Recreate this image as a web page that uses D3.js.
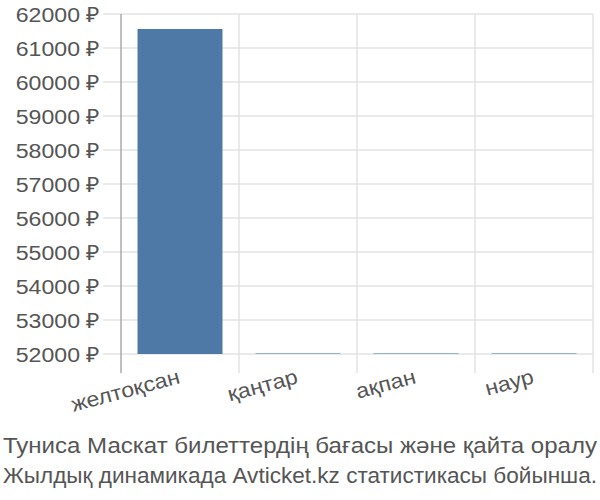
<!DOCTYPE html>
<html>
<head>
<meta charset="utf-8">
<script src="https://cdn.jsdelivr.net/npm/d3@7"></script>
<style>
  body { margin: 0; background: #fff; }
  text { font-family: "Liberation Sans", Arial, sans-serif; fill: #555; }
</style>
</head>
<body>
<div id="vis"></div>
<script>
const FRAME_WIDTH = 600;
const FRAME_HEIGHT = 500;
const MARGINS = { left: 121, right: 7, top: 14, bottom: 146 };
const STRETCH = 1.1; // text in the original is a bit wider than Liberation Sans

// data
const months = ["желтоқсан", "қаңтар", "ақпан", "наур"];
const prices = [61560, 52030, 52030, 52030];
const yTicks = [52000, 53000, 54000, 55000, 56000, 57000, 58000, 59000, 60000, 61000, 62000];
const titleLines = [
  "Туниса Маскат билеттердің бағасы және қайта оралу",
  "Жылдық динамикада Avticket.kz статистикасы бойынша."
];

const VIS_WIDTH = FRAME_WIDTH - MARGINS.left - MARGINS.right;
const VIS_HEIGHT = FRAME_HEIGHT - MARGINS.top - MARGINS.bottom;

const svg = d3.select("#vis")
  .append("svg")
  .attr("width", FRAME_WIDTH)
  .attr("height", FRAME_HEIGHT);

const X_SCALE = d3.scaleBand()
  .domain(months)
  .range([0, VIS_WIDTH])
  .paddingInner(0.28)
  .paddingOuter(0.14);

const Y_SCALE = d3.scaleLinear()
  .domain([52000, 62000])
  .range([VIS_HEIGHT, 0]);

const g = svg.append("g")
  .attr("transform", "translate(" + MARGINS.left + "," + MARGINS.top + ")");

// horizontal grid + ticks on the left
g.selectAll(".hgrid")
  .data(yTicks)
  .enter()
  .append("line")
  .attr("x1", -18)
  .attr("x2", VIS_WIDTH)
  .attr("y1", d => Y_SCALE(d))
  .attr("y2", d => Y_SCALE(d))
  .attr("stroke", "#e3e3e3")
  .attr("stroke-width", 1.5);

// vertical grid at band edges
const step = X_SCALE.step();
const edges = months.map(m => X_SCALE(m) - X_SCALE.paddingOuter() * step);
edges.push(VIS_WIDTH);
g.selectAll(".vgrid")
  .data(edges.slice(1))
  .enter()
  .append("line")
  .attr("x1", d => d)
  .attr("x2", d => d)
  .attr("y1", 0)
  .attr("y2", VIS_HEIGHT + 19)
  .attr("stroke", "#e3e3e3")
  .attr("stroke-width", 1.5);

// y axis line
g.append("line")
  .attr("x1", 0).attr("x2", 0)
  .attr("y1", 0).attr("y2", VIS_HEIGHT + 19)
  .attr("stroke", "#aaa")
  .attr("stroke-width", 1.5);

// bars
g.selectAll(".bar")
  .data(prices)
  .enter()
  .append("rect")
  .attr("x", (d, i) => X_SCALE(months[i]))
  .attr("y", d => Y_SCALE(d))
  .attr("width", X_SCALE.bandwidth())
  .attr("height", d => VIS_HEIGHT - Y_SCALE(d))
  .attr("fill", "#4e79a7")
  .attr("fill-opacity", d => d > 53000 ? 1 : 0.5);

// y tick labels
g.selectAll(".ylab")
  .data(yTicks)
  .enter()
  .append("text")
  .attr("transform", d => "translate(-21," + Y_SCALE(d) + ") scale(" + STRETCH + ",1)")
  .attr("dy", "0.36em")
  .attr("text-anchor", "end")
  .attr("font-size", "21px")
  .text(d => d + " ₽");

// x labels, rotated
g.selectAll(".xlab")
  .data(months)
  .enter()
  .append("text")
  .attr("text-anchor", "end")
  .attr("font-size", "21px")
  .attr("transform", d => "translate(" + (X_SCALE(d) + X_SCALE.bandwidth() / 2 + 1) + "," + (VIS_HEIGHT + 29) + ") rotate(-15) scale(" + STRETCH + ",1)")
  .text(d => d);

// title, both lines fill the width
svg.selectAll(".title")
  .data(titleLines)
  .enter()
  .append("text")
  .attr("x", 3)
  .attr("y", (d, i) => 453 + i * 29.5)
  .attr("font-size", "21.5px")
  .attr("textLength", 594)
  .attr("lengthAdjust", "spacingAndGlyphs")
  .text(d => d);
</script>
</body>
</html>
